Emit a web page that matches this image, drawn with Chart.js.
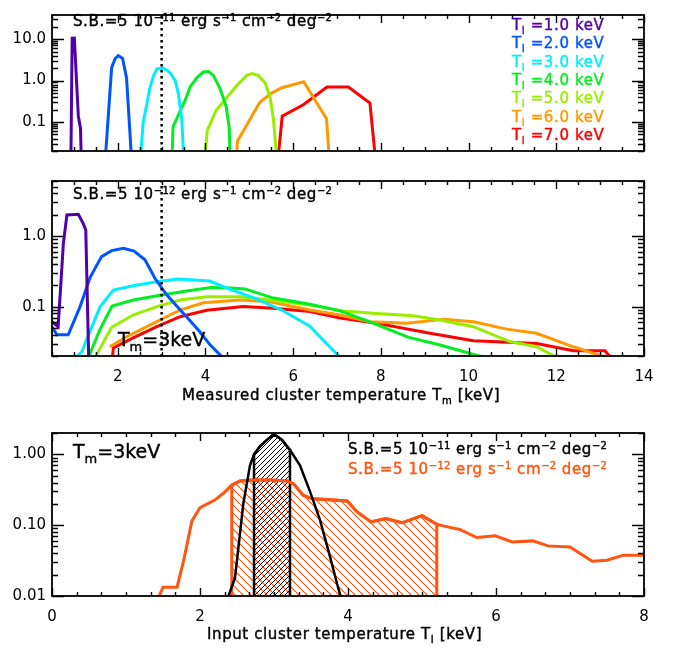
<!DOCTYPE html>
<html>
<head>
<meta charset="utf-8">
<script src="https://cdn.jsdelivr.net/npm/chart.js@4/dist/chart.umd.min.js"></script>
<style>
  body { margin: 0; background: #fff; }
  #wrap { position: relative; width: 675px; height: 648px; font-family: 'DejaVu Sans', sans-serif; font-size: 15px; color: #000; }
  canvas { position: absolute; left: 0; top: 0; }
  .t { position: absolute; white-space: nowrap; line-height: 16px; letter-spacing: 0.6px; -webkit-text-stroke: 0.4px; }
  .big { font-size: 19px; line-height: 20px; letter-spacing: 0; }
  .sup { font-size: 10px; position: relative; top: -5px; letter-spacing: 0.3px; }
  .sub { font-size: 10px; position: relative; top: 4px; }
  .big .sub { font-size: 13px; top: 5px; }
</style>
</head>
<body>
<div id="wrap">
  <canvas id="top" width="675" height="648"></canvas>
  <canvas id="mid" width="675" height="648"></canvas>
  <canvas id="bot" width="675" height="648"></canvas>

  <div class="t" style="left:73px;top:13px">S.B.=5 10<span class="sup">−11</span> erg s<span class="sup">−1</span> cm<span class="sup">−2</span> deg<span class="sup">−2</span></div>
  <div id="legend"></div>
  <div class="t" style="left:73px;top:186px">S.B.=5 10<span class="sup">−12</span> erg s<span class="sup">−1</span> cm<span class="sup">−2</span> deg<span class="sup">−2</span></div>
  <div class="t big" style="left:118px;top:329px">T<span class="sub">m</span>=3keV</div>
  <div class="t" style="left:182px;top:387px">Measured cluster temperature T<span class="sub">m</span> [keV]</div>

  <div class="t big" style="left:73px;top:441px">T<span class="sub">m</span>=3keV</div>
  <div class="t" style="left:348px;top:441px">S.B.=5 10<span class="sup">−11</span> erg s<span class="sup">−1</span> cm<span class="sup">−2</span> deg<span class="sup">−2</span></div>
  <div class="t" style="left:348px;top:461px;color:#ff5511">S.B.=5 10<span class="sup">−12</span> erg s<span class="sup">−1</span> cm<span class="sup">−2</span> deg<span class="sup">−2</span></div>
  <div class="t" style="left:207px;top:626px">Input cluster temperature T<span class="sub">I</span> [keV]</div>
</div>

<script>
// input temperatures (keV) of the simulated clusters
const inputTemps = ['1.0', '2.0', '3.0', '4.0', '5.0', '6.0', '7.0'];

// measured temperature distributions, S.B. = 5e-11
const hiX1 = [0.93, 0.96, 1.01, 1.10, 1.15, 1.17];
const hiY1 = [0.01, 10.5, 10.6, 0.14, 0.07, 0.01];
const hiX2 = [1.72, 1.86, 1.94, 2.01, 2.11, 2.20, 2.31];
const hiY2 = [0.015, 2.05, 3.4, 4.0, 3.4, 1.15, 0.015];
const hiX3 = [2.52, 2.58, 2.66, 2.73, 2.81, 2.89, 3.04, 3.19, 3.31, 3.38, 3.46, 3.50];
const hiY3 = [0.015, 0.10, 0.26, 0.65, 1.24, 1.9, 2.0, 1.55, 1.0, 0.49, 0.117, 0.015];
const hiX4 = [3.24, 3.26, 3.39, 3.54, 3.65, 3.80, 3.95, 4.07, 4.18, 4.33, 4.47, 4.54, 4.56];
const hiY4 = [0.015, 0.076, 0.156, 0.34, 0.70, 1.15, 1.60, 1.65, 1.33, 0.65, 0.24, 0.076, 0.015];
const hiX5 = [3.99, 4.04, 4.24, 4.49, 4.71, 4.94, 5.07, 5.20, 5.36, 5.47, 5.55, 5.62];
const hiY5 = [0.015, 0.062, 0.19, 0.39, 0.75, 1.33, 1.47, 1.33, 0.87, 0.42, 0.117, 0.015];
const hiX6 = [4.71, 4.73, 5.24, 5.50, 5.74, 6.24, 6.76, 6.82];
const hiY6 = [0.015, 0.035, 0.30, 0.49, 0.67, 0.93, 0.12, 0.015];
const hiX7 = [5.66, 5.75, 6.24, 6.77, 7.26, 7.75, 7.87];
const hiY7 = [0.015, 0.139, 0.265, 0.70, 0.70, 0.288, 0.015];

// measured temperature distributions, S.B. = 5e-12
const loX1 = [0.5, 0.64, 0.76, 0.84, 1.10, 1.21, 1.27, 1.34];
const loY1 = [0.061, 0.052, 0.79, 1.98, 2.03, 1.51, 1.22, 0.015];
const loX2 = [0.5, 0.61, 0.87, 1.14, 1.37, 1.63, 1.86, 2.13, 2.37, 2.62, 2.85, 3.12, 3.42, 3.65, 3.87, 4.10, 4.43];
const loY2 = [0.052, 0.040, 0.040, 0.10, 0.26, 0.51, 0.62, 0.67, 0.61, 0.46, 0.25, 0.146, 0.09, 0.063, 0.044, 0.029, 0.018];
const loX3 = [1.04, 1.18, 1.41, 1.60, 1.90, 2.35, 2.89, 3.38, 4.10, 4.56, 5.13, 5.74, 6.38, 7.07];
const loY3 = [0.019, 0.023, 0.052, 0.10, 0.172, 0.198, 0.225, 0.246, 0.23, 0.176, 0.131, 0.0895, 0.053, 0.019];
const loX4 = [1.33, 1.59, 1.87, 2.35, 3.00, 3.57, 4.13, 4.56, 4.90, 5.55, 6.38, 7.07, 7.75, 8.62, 9.35, 10.37];
const loY4 = [0.019, 0.047, 0.102, 0.124, 0.146, 0.166, 0.187, 0.183, 0.178, 0.132, 0.108, 0.087, 0.061, 0.037, 0.0286, 0.019];
const loX5 = [1.48, 1.86, 2.35, 2.89, 3.42, 4.03, 4.79, 5.47, 6.38, 7.14, 7.91, 8.74, 9.35, 10.11, 10.94, 11.55, 12.01];
const loY5 = [0.019, 0.051, 0.076, 0.100, 0.124, 0.138, 0.138, 0.124, 0.105, 0.087, 0.080, 0.074, 0.0646, 0.052, 0.032, 0.027, 0.019];
const loX6 = [1.82, 2.20, 2.81, 3.42, 3.95, 4.79, 5.47, 6.38, 7.07, 7.75, 8.59, 9.42, 10.11, 10.87, 11.55, 12.39, 13.15];
const loY6 = [0.027, 0.0375, 0.058, 0.0895, 0.1135, 0.124, 0.1175, 0.0895, 0.076, 0.061, 0.058, 0.066, 0.061, 0.048, 0.042, 0.027, 0.019];
const loX7 = [1.86, 1.90, 2.35, 2.89, 3.42, 4.03, 4.86, 5.55, 6.38, 7.07, 7.98, 9.12, 10.11, 11.55, 12.39, 13.11, 13.26];
const loY7 = [0.015, 0.026, 0.036, 0.052, 0.072, 0.089, 0.100, 0.095, 0.085, 0.069, 0.057, 0.042, 0.033, 0.030, 0.0237, 0.0237, 0.0185];

const tmCut = 3; // measured temperature marked by the dotted line

// input temperature distribution for Tm = 3 keV
const inX11 = [2.378, 2.473, 2.585, 2.676, 2.73, 2.811, 2.905, 3.0, 3.108, 3.216, 3.351, 3.486, 3.62, 3.757, 3.851, 3.905];
const inY11 = [0.0096, 0.018, 0.2, 0.7, 1.0, 1.3, 1.6, 1.93, 1.6, 1.15, 0.7, 0.3, 0.12, 0.036, 0.015, 0.0095];
const inX12 = [1.43, 1.50, 1.69, 1.78, 1.89, 2.0, 2.2, 2.32, 2.43, 2.54, 2.72, 2.95, 3.18, 3.27, 3.39, 3.51, 3.8, 3.99,
               4.12, 4.31, 4.51, 4.73, 5.0, 5.2, 5.3, 5.51, 5.74, 5.99, 6.22, 6.5, 6.7, 7.0, 7.3, 7.5, 7.72, 8.0];
const inY12 = [0.009, 0.0133, 0.0133, 0.032, 0.114, 0.177, 0.226, 0.284, 0.368, 0.42, 0.434, 0.434, 0.42, 0.38, 0.266, 0.237, 0.226, 0.219,
               0.155, 0.111, 0.124, 0.108, 0.136, 0.103, 0.0968, 0.0869, 0.067, 0.0706, 0.058, 0.060, 0.051, 0.0493, 0.031, 0.032, 0.0377, 0.0377];
// shaded intervals
const band11 = [2.73, 3.216];
const band12 = [2.43, 5.2];

const colors = ['#5200aa', '#0055ff', '#00eeff', '#00ee22', '#99ee00', '#ff9900', '#ff0000'];
const orangeRed = '#ff5511';
const font = { family: "'DejaVu Sans', sans-serif", size: 15 };

const pts = (xs, ys) => xs.map((x, i) => ({ x: x, y: ys[i] }));

// legend in top panel
document.getElementById('legend').innerHTML = inputTemps.map((t, i) =>
  `<div class="t" style="left:512px;top:${17 + i * 18.3}px;color:${colors[i]}">T<span class="sub">I</span> =${t} keV</div>`
).join('');

// axes box with IDL style inward ticks
const idlFrame = {
  id: 'idlFrame',
  afterDatasetsDraw(chart, args, o) {
    const ctx = chart.ctx, a = chart.chartArea, x = chart.scales.x, y = chart.scales.y;
    ctx.save();
    ctx.strokeStyle = '#000';
    ctx.lineWidth = 1.4;
    ctx.beginPath();
    const n0 = Math.ceil(x.min / o.xMinor - 1e-6), n1 = Math.floor(x.max / o.xMinor + 1e-6);
    for (let k = n0; k <= n1; k++) {
      const v = k * o.xMinor, r = v / o.xMajor;
      const len = Math.abs(r - Math.round(r)) < 1e-6 ? 8 : 4;
      const p = Math.round(x.getPixelForValue(v)) + 0.5;
      ctx.moveTo(p, a.bottom); ctx.lineTo(p, a.bottom - len);
      ctx.moveTo(p, a.top); ctx.lineTo(p, a.top + len);
    }
    for (let d = Math.floor(Math.log10(y.min)); d <= Math.ceil(Math.log10(y.max)); d++) {
      for (let m = 1; m < 10; m++) {
        const v = m * Math.pow(10, d);
        if (v < y.min * 0.999 || v > y.max * 1.001) continue;
        const p = Math.round(y.getPixelForValue(v)) + 0.5, len = m === 1 ? 12 : 6;
        ctx.moveTo(a.left, p); ctx.lineTo(a.left + len, p);
        ctx.moveTo(a.right, p); ctx.lineTo(a.right - len, p);
      }
    }
    ctx.stroke();
    ctx.lineWidth = 1.8;
    ctx.strokeRect(a.left, a.top, a.right - a.left, a.bottom - a.top);
    ctx.restore();
  }
};
Chart.register(idlFrame);

function logAxis(min, max, marks, digits) {
  return {
    type: 'logarithmic', min: min, max: max,
    afterFit: s => { s.width = 52; },
    afterBuildTicks: s => { s.ticks = marks.map(v => ({ value: v })); },
    ticks: { callback: v => Number(v).toFixed(digits), font: font, color: '#000', padding: 6 },
    grid: { display: false, drawTicks: false },
    border: { display: false }
  };
}

function linAxis(min, max, marks, show) {
  return {
    type: 'linear', min: min, max: max, display: show,
    afterFit: s => { s.height = 30; },
    afterBuildTicks: s => { s.ticks = marks.map(v => ({ value: v })); },
    ticks: { callback: v => String(v), font: font, color: '#000', padding: 12, autoSkip: false, maxRotation: 0 },
    grid: { display: false, drawTicks: false },
    border: { display: false }
  };
}

function opts(pad, xAxis, yAxis, xMinor, xMajor) {
  return {
    responsive: false, animation: false, devicePixelRatio: 1,
    layout: { padding: pad },
    plugins: { legend: { display: false }, tooltip: { enabled: false }, idlFrame: { xMinor: xMinor, xMajor: xMajor } },
    scales: { x: xAxis, y: yAxis },
    elements: { point: { radius: 0 }, line: { tension: 0 } }
  };
}

function curve(xs, ys, color, width) {
  return { data: pts(xs, ys), borderColor: color, borderWidth: width || 3, fill: false, pointRadius: 0 };
}

function dotted() {
  return { data: [{ x: tmCut, y: 1e-4 }, { x: tmCut, y: 1e4 }], borderColor: '#000', borderWidth: 2.5, borderDash: [2.5, 3.5], pointRadius: 0 };
}

const hiSeries = [[hiX1, hiY1], [hiX2, hiY2], [hiX3, hiY3], [hiX4, hiY4], [hiX5, hiY5], [hiX6, hiY6], [hiX7, hiY7]];
const loSeries = [[loX1, loY1], [loX2, loY2], [loX3, loY3], [loX4, loY4], [loX5, loY5], [loX6, loY6], [loX7, loY7]];

new Chart(document.getElementById('top'), {
  type: 'line',
  data: { datasets: [dotted()].concat(hiSeries.map((s, i) => curve(s[0], s[1], colors[i]))) },
  options: opts({ left: 0, top: 5, right: 31, bottom: 467 },
    linAxis(0.5, 14, [2, 4, 6, 8, 10, 12, 14], false),
    logAxis(0.02, 38, [0.1, 1, 10], 1), 0.5, 2)
});

new Chart(document.getElementById('mid'), {
  type: 'line',
  data: { datasets: [dotted()].concat(loSeries.map((s, i) => curve(s[0], s[1], colors[i]))) },
  options: opts({ left: 0, top: 181, right: 31, bottom: 262 },
    linAxis(0.5, 14, [2, 4, 6, 8, 10, 12, 14], true),
    logAxis(0.02, 6, [0.1, 1], 1), 0.5, 2)
});

// diagonal hatching used for the shaded intervals
function hatch(color, step, forward, lw) {
  const c = document.createElement('canvas');
  c.width = c.height = step;
  const g = c.getContext('2d');
  g.strokeStyle = color;
  g.lineWidth = lw;
  g.beginPath();
  for (let k = -1; k <= 1; k++) {
    if (forward) { g.moveTo(k * step, step); g.lineTo(k * step + step, 0); }
    else { g.moveTo(k * step, 0); g.lineTo(k * step + step, step); }
  }
  g.stroke();
  return g.createPattern(c, 'repeat');
}

function band(xs, ys, range, color, pattern, width) {
  const inside = pts(xs, ys).filter(p => p.x >= range[0] - 1e-9 && p.x <= range[1] + 1e-9);
  const data = [{ x: range[0], y: 1e-4 }].concat(inside, [{ x: range[1], y: 1e-4 }]);
  return { data: data, borderColor: color, borderWidth: width, backgroundColor: pattern, fill: 'start', pointRadius: 0 };
}

const botSets = [
  Object.assign(curve(inX11, inY11, '#000', 2.5), { order: 0 }),
  Object.assign(curve(inX12, inY12, orangeRed, 3), { order: 1 }),
  Object.assign(band(inX11, inY11, band11, '#000', hatch('#000', 5, true, 1), 2.5), { order: 2 }),
  Object.assign(band(inX12, inY12, band12, orangeRed, hatch(orangeRed, 8, false, 1.2), 3), { order: 3 })
];

new Chart(document.getElementById('bot'), {
  type: 'line',
  data: { datasets: botSets },
  options: opts({ left: 0, top: 433, right: 31, bottom: 22 },
    linAxis(0, 8, [0, 2, 4, 6, 8], true),
    logAxis(0.01, 2, [0.01, 0.1, 1], 2), 1 / 3, 2)
});
</script>
</body>
</html>
